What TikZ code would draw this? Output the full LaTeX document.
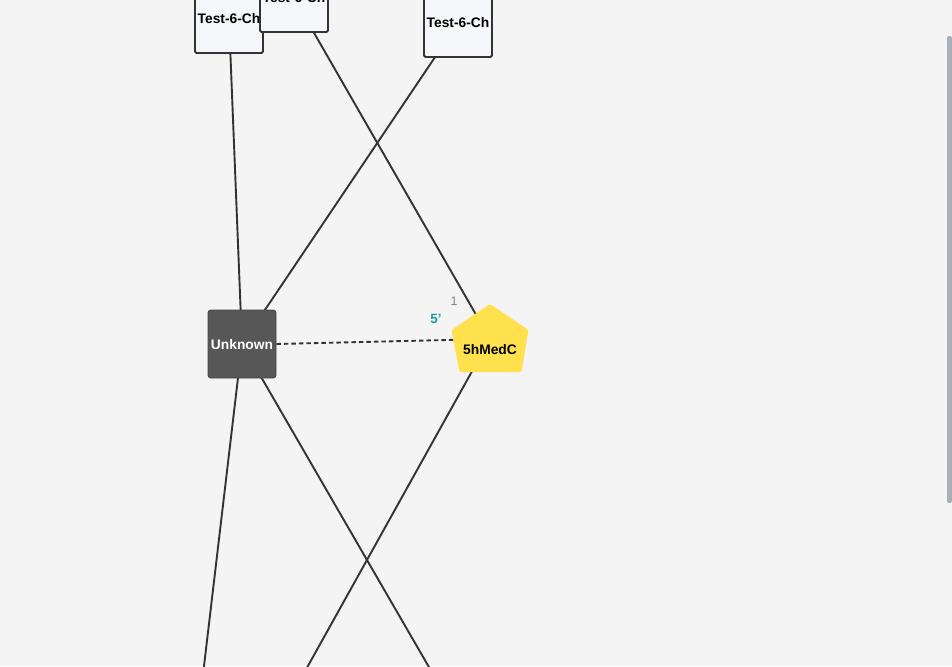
\documentclass[tikz,border=0pt]{standalone}
\usepackage{fontspec}
\setmainfont{Liberation Sans}
\pgfdeclarelayer{back}
\pgfsetlayers{back,main}
\definecolor{canvas}{HTML}{F4F4F4}
\definecolor{boxfill}{HTML}{F6F7FA}
\definecolor{ink}{HTML}{333333}
\definecolor{darknode}{HTML}{575757}
\definecolor{pentyellow}{HTML}{FFE14D}
\definecolor{endteal}{HTML}{1A9BAA}
\definecolor{scrollgray}{HTML}{A7B1BB}
\tikzset{
  testbox/.style={draw=ink, line width=1.8pt, fill=boxfill, rounded corners=1.5pt,
    minimum width=68pt, minimum height=68pt, inner sep=0pt, text depth=-1pt,
    font=\fontsize{13.8}{15}\selectfont\bfseries, text=black},
  unknownbox/.style={draw=darknode!80!black, line width=0.9pt, fill=darknode, rounded corners=3pt,
    minimum width=68pt, minimum height=68pt, inner sep=0pt, text depth=-1pt,
    font=\fontsize{13.8}{15}\selectfont\bfseries, text=white},
  anchorpt/.style={inner sep=0pt, minimum size=0pt},
  medlabel/.style={inner sep=0pt, font=\fontsize{13.8}{15}\selectfont\bfseries, text=black},
  link/.style={draw=ink, line width=1.9pt},
  dashlink/.style={draw=ink, line width=1.9pt, dash pattern=on 4.5pt off 3pt},
  numlabel/.style={inner sep=0pt, font=\fontsize{12.5}{14}\selectfont, text=gray},
  endlabel/.style={inner sep=0pt, font=\fontsize{13.5}{15}\selectfont\bfseries, text=endteal}
}
\begin{document}
\begin{tikzpicture}[x=1pt, y=-1pt]
\useasboundingbox (0,0) rectangle (952,666);
\clip (0,0) rectangle (952,666);

% upper row of test boxes (the middle one overlaps the left one)
\node[testbox] (t1) at (229,19) {Test-6-Ch};
\node[testbox] (t2) at (294,-2) {Test-6-Ch};
\node[testbox] (t3) at (458,23) {Test-6-Ch};

% central nodes
\node[unknownbox] (unk) at (242,344) {Unknown};
\node[anchorpt] (med) at (490,339) {};
\fill[pentyellow, rounded corners=1.5pt]
  ([shift={(0,-35)}]med.center) -- ([shift={(38.5,-9)}]med.center)
  -- ([shift={(31.5,33)}]med.center) -- ([shift={(-30.5,33)}]med.center)
  -- ([shift={(-38.5,-9)}]med.center) -- cycle;
\node[medlabel] (medtxt) at (490,349.5) {5hMedC};

% end labels of the dashed link
\node[numlabel] (n1) at (454,301) {1};
\node[endlabel] (n5) at (436,319) {5’};

% continuation points below the visible area
\coordinate (d1) at (200,700);
\coordinate (d2) at (448,700);
\coordinate (d3) at (289,700);

\begin{pgfonlayer}{back}
  \fill[canvas] (0,0) rectangle (952,666);
  \fill[scrollgray, rounded corners=2pt] (947,36) rectangle (952,503);
  \draw[link] (t1.center) -- (unk.center);
  \draw[link] (t2.center) -- (med.center);
  \draw[link] (t3.center) -- (unk.center);
  \draw[dashlink] (unk.east) -- (med.center);
  \draw[link] (unk.center) -- (d1);
  \draw[link] (unk.center) -- (d2);
  \draw[link] (med.center) -- (d3);
\end{pgfonlayer}
\end{tikzpicture}
\end{document}
